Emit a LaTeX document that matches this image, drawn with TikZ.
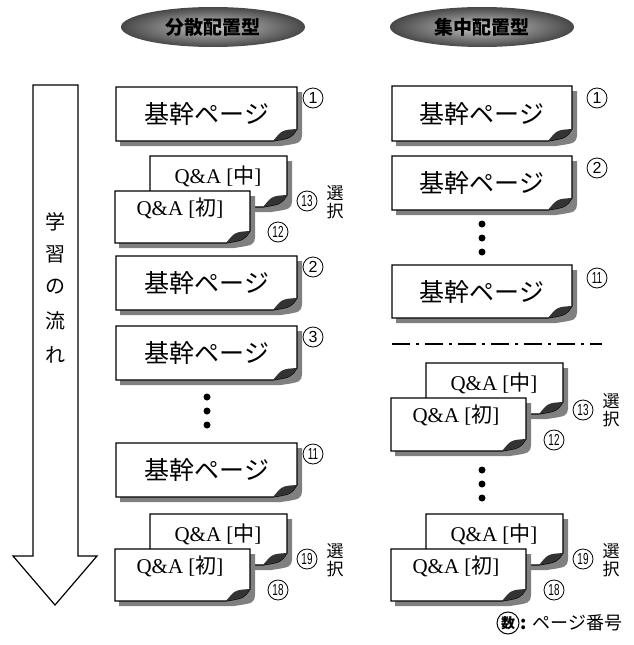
\documentclass[tikz,border=0pt]{standalone}
\usepackage{fontspec}
\setmainfont{Liberation Serif}
\newfontfamily\jp{Noto Sans CJK JP}
\newfontfamily\numf{Liberation Sans}
\newfontfamily\numn[FakeStretch=0.62]{Liberation Sans}
\usetikzlibrary{shapes.geometric}
\tikzset{
  shadowc/.style={fill=black!50},
  pagefill/.style={fill=white, draw=black, line width=1.1pt},
  curlc/.style={fill=black!80},
  btxt/.style={font=\jp\fontsize{25}{25}\selectfont, inner sep=0pt},
  qtxt/.style={font=\fontsize{21}{21}\selectfont, inner sep=0pt},
  num/.style={circle, draw=black, line width=0.8pt, minimum size=20pt, inner sep=0pt,
     font=\numf\fontsize{16}{16}\selectfont},
  numw/.style={num, font=\numn\fontsize{16}{16}\selectfont},
  sel/.style={font=\jp\fontsize{17}{17}\selectfont, inner sep=0pt},
  flow/.style={font=\jp\fontsize{20}{20}\selectfont, inner sep=0pt},
  dotn/.style={circle, fill=black, inner sep=0pt, minimum size=7pt},
  hdr/.style={ellipse, shade, inner color=black!22, outer color=black!72,
     minimum width=184pt, minimum height=40pt, inner sep=0pt,
     font=\jp\bfseries\fontsize{19}{19}\selectfont},
  sepline/.style={line width=1.1pt, dash pattern=on 18pt off 6pt on 3pt off 6pt},
  flowarrow/.style={draw=black, line width=1.2pt, fill=white},
}
\newcommand\pbox[4]{%
  \fill[shadowc] (#1+4,#2+5) -- (#3+5,#2+5) -- (#3+5,#4-6) .. controls (#3+4,#4+2) .. (#3-16,#4+5) -- (#1+4,#4+5) -- cycle;
  \filldraw[pagefill] (#1,#2) -- (#3,#2) -- (#3,#4-12) .. controls (#3-6,#4-3) .. (#3-24,#4) -- (#1,#4) -- cycle;
  \fill[curlc] (#3-24,#4) .. controls (#3-15,#4-11) .. (#3,#4-12) .. controls (#3-6,#4-3) .. (#3-24,#4) -- cycle;
}
\newcommand\qa[1]{Q\&A [{\jp #1}]}
\begin{document}
\begin{tikzpicture}[x=1pt,y=-1pt]
\useasboundingbox (0,0) rectangle (633,645);

% headers
\node[hdr] (hl) at (213,27) {分散配置型};
\node[hdr] (hr) at (482,27) {集中配置型};

% flow arrow
\filldraw[flowarrow] (33,85) -- (78,85) -- (78,556) -- (97,556) -- (55,605) -- (13,556) -- (33,556) -- cycle;
\node[flow] (f1) at (55,222) {学};
\node[flow] (f2) at (55,254) {習};
\node[flow] (f3) at (55,287) {の};
\node[flow] (f4) at (55,321) {流};
\node[flow] (f5) at (55,355) {れ};

% ---------- left column ----------
\pbox{116}{87}{297}{141}
\node[btxt] (l1) at (207,114) {基幹ページ};
\node[num] (ln1) at (313,98) {1};

\pbox{150}{156}{287}{207}
\node[qtxt] (lq1b) at (218,176) {\qa{中}};
\pbox{115}{191}{250}{243}
\node[qtxt] (lq1f) at (180,208) {\qa{初}};
\node[numw] (ln13) at (307,201) {13};
\node[numw] (ln12) at (278,232) {12};
\node[sel] (ls1a) at (335,193) {選};
\node[sel] (ls1b) at (335,211) {択};

\pbox{116}{256}{297}{310}
\node[btxt] (l2) at (207,283) {基幹ページ};
\node[num] (ln2) at (313,267) {2};

\pbox{116}{326}{297}{380}
\node[btxt] (l3) at (207,353) {基幹ページ};
\node[num] (ln3) at (313,337) {3};

\node[dotn] (ld1) at (207,397) {};
\node[dotn] (ld2) at (207,411) {};
\node[dotn] (ld3) at (207,425) {};

\pbox{116}{443}{297}{497}
\node[btxt] (l11) at (207,470) {基幹ページ};
\node[numw] (ln11) at (313,454) {11};

\pbox{150}{514}{287}{565}
\node[qtxt] (lq2b) at (218,534) {\qa{中}};
\pbox{115}{549}{250}{601}
\node[qtxt] (lq2f) at (180,566) {\qa{初}};
\node[numw] (ln19) at (307,559) {19};
\node[numw] (ln18) at (278,590) {18};
\node[sel] (ls2a) at (335,551) {選};
\node[sel] (ls2b) at (335,569) {択};

% ---------- right column ----------
\pbox{392}{86}{572}{141}
\node[btxt] (r1) at (482,114) {基幹ページ};
\node[num] (rn1) at (597,98) {1};

\pbox{392}{156}{572}{210}
\node[btxt] (r2) at (482,183) {基幹ページ};
\node[num] (rn2) at (597,168) {2};

\node[dotn] (rd1) at (482,224) {};
\node[dotn] (rd2) at (482,238) {};
\node[dotn] (rd3) at (482,252) {};

\pbox{392}{265}{572}{318}
\node[btxt] (r11) at (482,292) {基幹ページ};
\node[numw] (rn11) at (597,278) {11};

\coordinate (sepa) at (392,344);
\coordinate (sepb) at (602,344);
\draw[sepline] (sepa) -- (sepb);

\pbox{426}{363}{563}{414}
\node[qtxt] (rq1b) at (494,383) {\qa{中}};
\pbox{391}{398}{526}{451}
\node[qtxt] (rq1f) at (456,415) {\qa{初}};
\node[numw] (rn13) at (583,410) {13};
\node[numw] (rn12) at (554,440) {12};
\node[sel] (rs1a) at (611,401) {選};
\node[sel] (rs1b) at (611,419) {択};

\node[dotn] (rd4) at (482,470) {};
\node[dotn] (rd5) at (482,484) {};
\node[dotn] (rd6) at (482,498) {};

\pbox{426}{514}{563}{565}
\node[qtxt] (rq2b) at (494,534) {\qa{中}};
\pbox{391}{549}{526}{601}
\node[qtxt] (rq2f) at (456,566) {\qa{初}};
\node[numw] (rn19) at (583,559) {19};
\node[numw] (rn18) at (554,590) {18};
\node[sel] (rs2a) at (611,551) {選};
\node[sel] (rs2b) at (611,569) {択};

% legend
\node[circle, draw, line width=1pt, minimum size=22pt, inner sep=0pt, font=\jp\bfseries\fontsize{14}{14}\selectfont] (lg) at (508,623) {数};
\node[anchor=west, inner sep=1pt, font=\jp\fontsize{18}{18}\selectfont] (lgt) at (lg.east) {{\bfseries:} ページ番号};
\end{tikzpicture}
\end{document}
